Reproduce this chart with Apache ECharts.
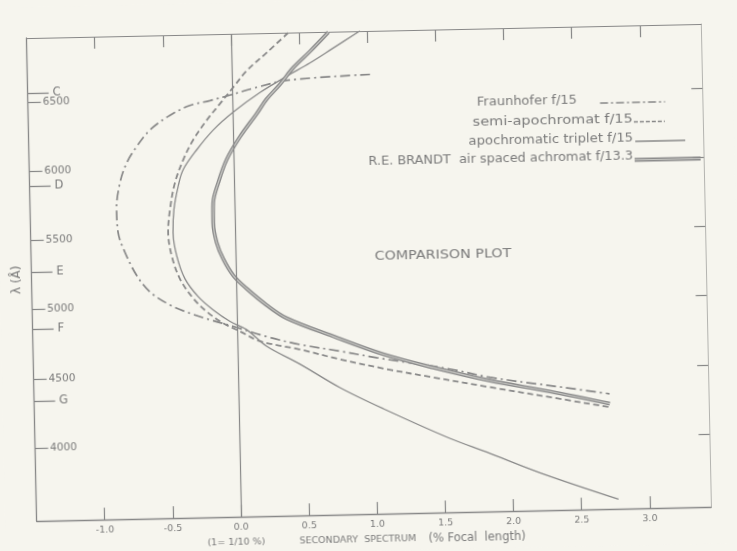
<!DOCTYPE html>
<html><head><meta charset="utf-8">
<script src="https://cdn.jsdelivr.net/npm/echarts@6/dist/echarts.min.js"></script>
<style>
html,body{margin:0;padding:0;width:737px;height:551px;overflow:hidden;background:#f6f5ee;}
#chart{position:absolute;left:0;top:0;width:737px;height:551px;transform:rotate(-1.2deg);transform-origin:50% 50%;}
</style></head><body><div id="chart"></div>
<script>
// ---- data (x = secondary spectrum, % focal length; lambda in Angstrom) ----
const lambdaTicks = [4000, 4500, 5000, 5500, 6000, 6500];
const lineLetters = ['C', 'D', 'E', 'F', 'G'];
const lineLambdas = [6563, 5893, 5270, 4861, 4340];
const xTicks = [-1.0, -0.5, 0.0, 0.5, 1.0, 1.5, 2.0, 2.5, 3.0];

const fraunLambda = [6648, 6618, 6572, 6520, 6483, 6451, 6383, 6280, 6162, 6045, 5903, 5711, 5544, 5401, 5233, 5112, 5014, 4951, 4901, 4850, 4773, 4709, 4655, 4602, 4509, 4443, 4360, 4306];
const fraunX      = [1.014, 0.404, 0.183, -0.017, -0.164, -0.312, -0.460, -0.609, -0.709, -0.785, -0.837, -0.866, -0.858, -0.811, -0.729, -0.634, -0.489, -0.344, -0.198, -0.028, 0.208, 0.459, 0.751, 1.019, 1.555, 1.849, 2.381, 2.722];

const semiLambda = [6960, 6820, 6693, 6576, 6459, 6342, 6202, 6061, 5894, 5703, 5537, 5370, 5202, 5058, 4961, 4874, 4813, 4739, 4673, 4596, 4518, 4451, 4372, 4291, 4210];
const semiX      = [0.419, 0.259, 0.110, 0.009, -0.091, -0.191, -0.293, -0.369, -0.434, -0.474, -0.491, -0.469, -0.412, -0.317, -0.221, -0.101, 0.021, 0.165, 0.458, 0.750, 1.092, 1.433, 1.847, 2.285, 2.720];

const tripLambda = [6964, 6844, 6740, 6648, 6534, 6397, 6270, 6130, 5989, 5871, 5703, 5536, 5369, 5201, 5069, 4971, 4886, 4824, 4702, 4568, 4392, 4233, 4009, 3905, 3747, 3544];
const tripX      = [0.947, 0.748, 0.575, 0.403, 0.204, 0.005, -0.145, -0.269, -0.371, -0.410, -0.445, -0.455, -0.432, -0.375, -0.280, -0.172, -0.051, 0.070, 0.213, 0.455, 0.745, 1.060, 1.544, 1.810, 2.200, 2.772];

const brandtLambda = [6959, 6823, 6708, 6590, 6485, 6382, 6218, 6054, 5888, 5744, 5601, 5459, 5338, 5218, 5121, 4999, 4901, 4763, 4626, 4522, 4419, 4332, 4235];
const brandtX      = [0.715, 0.577, 0.452, 0.352, 0.252, 0.177, 0.051, -0.051, -0.116, -0.156, -0.159, -0.137, -0.091, -0.020, 0.076, 0.220, 0.365, 0.704, 1.068, 1.433, 1.847, 2.285, 2.723];

const legendNames = ['Fraunhofer f/15', 'semi-apochromat f/15', 'apochromatic triplet f/15', 'R.E. BRANDT  air spaced achromat f/13.3'];
const xTitleParts = ['(1= 1/10 %)', 'SECONDARY  SPECTRUM', '(% Focal  length)'];

// ---- chart ----
const pairs = (xs, ls) => xs.map((x, i) => [x, ls[i]]);
const INK = '#888888', TEXT = '#7a7a7a', FONT = '"DejaVu Sans", sans-serif', PAPER = '#f6f5ee';
const chart = echarts.init(document.getElementById('chart'), null, {renderer: 'canvas'});
const XMIN = -1.5, XMAX = 3.45, YMIN = 3474, YMAX = 6962;

const legendText = (i, x, y, sx) => ({type: 'text', x: x, y: y, scaleX: sx, originX: 0, originY: 0,
  style: {text: legendNames[i], font: '11.5px ' + FONT, fill: TEXT, align: 'right', verticalAlign: 'middle'}});

const option = {
  backgroundColor: PAPER,
  animation: false,
  grid: {left: 31.6, right: 30.8, top: 31, bottom: 31},
  xAxis: [
    {type: 'value', position: 'bottom', min: XMIN, max: XMAX,
     axisLine: {show: true, onZero: false, lineStyle: {color: INK, width: 1.3}},
     axisTick: {show: true, inside: true, length: 12, customValues: xTicks, lineStyle: {color: INK, width: 1.2}},
     axisLabel: {show: true, customValues: xTicks, margin: 5, fontSize: 9.5, color: TEXT, fontFamily: FONT,
                 formatter: v => v.toFixed(1)},
     splitLine: {show: false},
     name: '{a|' + xTitleParts[0] + '}{b|' + xTitleParts[1] + '}{c|' + xTitleParts[2] + '}',
     nameLocation: 'middle', nameGap: 19,
     nameTextStyle: {fontSize: 9.5, color: TEXT, fontFamily: FONT,
       rich: {a: {width: 92, fontSize: 9.5, color: TEXT, fontFamily: FONT, align: 'left'},
              b: {width: 129, fontSize: 9.5, color: TEXT, fontFamily: FONT, align: 'left'},
              c: {width: 113, fontSize: 11.5, color: TEXT, fontFamily: FONT, align: 'left'}}}},
    {type: 'value', position: 'top', min: XMIN, max: XMAX,
     axisLine: {show: true, onZero: false, lineStyle: {color: INK, width: 1.2}},
     axisTick: {show: true, inside: true, length: 12, customValues: xTicks, lineStyle: {color: INK, width: 1.2}},
     axisLabel: {show: false}, splitLine: {show: false}}
  ],
  yAxis: [
    {type: 'value', position: 'left', min: YMIN, max: YMAX,
     axisLine: {show: true, onZero: false, lineStyle: {color: INK, width: 1.3}},
     axisTick: {show: true, inside: true, length: 13, customValues: lambdaTicks, lineStyle: {color: INK, width: 1.2}},
     axisLabel: {show: true, inside: true, customValues: lambdaTicks, margin: 15, fontSize: 10.5, color: TEXT, fontFamily: FONT,
                 formatter: v => String(v)},
     splitLine: {show: false},
     name: 'λ (Å)', nameLocation: 'middle', nameGap: 9, nameRotate: 90,
     nameTextStyle: {fontSize: 12, color: TEXT, fontFamily: FONT}},
    {type: 'value', position: 'left', min: YMIN, max: YMAX,
     axisLine: {show: false, onZero: false},
     axisTick: {show: true, inside: true, length: 21, customValues: lineLambdas, lineStyle: {color: INK, width: 1.3}},
     axisLabel: {show: true, inside: true, customValues: lineLambdas, margin: 25, fontSize: 11.5, color: TEXT, fontFamily: FONT,
                 formatter: v => lineLetters[lineLambdas.indexOf(v)]},
     splitLine: {show: false}},
    {type: 'value', position: 'right', min: YMIN, max: YMAX,
     axisLine: {show: true, onZero: false, lineStyle: {color: '#b4b4b0', width: 1}},
     axisTick: {show: true, inside: true, length: 11, customValues: lambdaTicks, lineStyle: {color: INK, width: 1.2}},
     axisLabel: {show: false}, splitLine: {show: false}}
  ],
  series: [
    {name: legendNames[0], type: 'line', data: pairs(fraunX, fraunLambda), smooth: 0.35, symbol: 'none',
     lineStyle: {color: '#878787', width: 1.7, type: [10, 4, 2, 4]},
     markLine: {silent: true, symbol: ['none', 'none'], label: {show: false},
                lineStyle: {color: INK, width: 1.2, type: 'solid'}, data: [{xAxis: 0}]}},
    {name: legendNames[1], type: 'line', data: pairs(semiX, semiLambda), smooth: 0.35, symbol: 'none',
     lineStyle: {color: '#8a8a8a', width: 1.8, type: [6, 3.5]}},
    {name: legendNames[2], type: 'line', data: pairs(tripX, tripLambda), smooth: 0.35, symbol: 'none',
     lineStyle: {color: '#8a8a8a', width: 1.3, type: 'solid'}},
    {name: legendNames[3], type: 'line', data: pairs(brandtX, brandtLambda), smooth: 0.35, symbol: 'none',
     lineStyle: {color: '#8c8c8c', width: 3.8, type: 'solid'}},
    {name: legendNames[3] + ' core', type: 'line', data: pairs(brandtX, brandtLambda), smooth: 0.35, symbol: 'none',
     lineStyle: {color: '#c6c6c2', width: 1.2, type: 'solid'}}
  ],
  graphic: [
    legendText(0, 580.6, 105.5, 1.13),
    {type: 'line', shape: {x1: 603.6, y1: 108, x2: 668.6, y2: 108}, style: {stroke: INK, lineWidth: 1.5, lineDash: [8, 3, 2, 3]}},
    legendText(1, 636, 125, 1.26),
    {type: 'line', shape: {x1: 637, y1: 127.5, x2: 668, y2: 127.5}, style: {stroke: INK, lineWidth: 1.6, lineDash: [4, 2]}},
    legendText(2, 636, 144.5, 1.15),
    {type: 'line', shape: {x1: 638, y1: 147, x2: 688, y2: 147}, style: {stroke: INK, lineWidth: 1.3}},
    legendText(3, 635.5, 162, 1.12),
    {type: 'line', shape: {x1: 637, y1: 165.5, x2: 703, y2: 165.5}, style: {stroke: '#8c8c8c', lineWidth: 3.8}},
    {type: 'line', shape: {x1: 637, y1: 165.5, x2: 703, y2: 165.5}, style: {stroke: '#c6c6c2', lineWidth: 1.2}},
    {type: 'text', x: 443.4, y: 256.6, scaleX: 1.1, style: {text: 'COMPARISON PLOT', font: '13px ' + FONT, fill: TEXT, align: 'center', verticalAlign: 'middle'}}
  ]
};
chart.setOption(option);
</script></body></html>
